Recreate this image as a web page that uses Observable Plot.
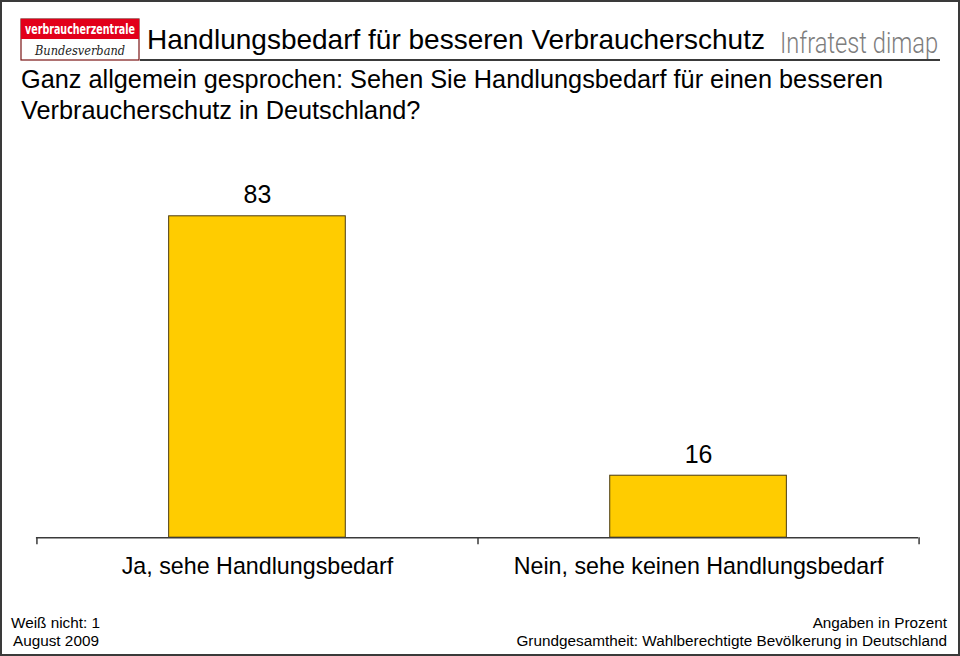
<!DOCTYPE html>
<html>
<head>
<meta charset="utf-8">
<script src="https://cdn.jsdelivr.net/npm/d3@7"></script>
<script src="https://cdn.jsdelivr.net/npm/@observablehq/plot@0.6"></script>
<style>
  html, body { margin: 0; padding: 0; background: #fff; }
  #frame { position: relative; width: 956px; height: 652px; border: 2px solid #3a3a3a; overflow: hidden;
    font-family: "Liberation Sans", Arial, Helvetica, sans-serif; color: #000; }
  .abs { position: absolute; white-space: nowrap; }
  #logo { left: 18px; top: 16px; }
  #title { left: 145px; top: 21px; font-size: 28px; line-height: 34px; }
  #brand { left: 778px; top: 24px; font-family: Roboto, sans-serif; font-weight: 300; font-size: 30px; line-height: 34px;
    color: #7d7d7d; transform: scaleX(0.79); transform-origin: left top; }
  #rule { left: 138px; top: 57px; width: 800px; height: 0; border-top: 2px solid #3a3a3a; }
  #subtitle { left: 19px; top: 62px; font-size: 25.3px; line-height: 31px; }
  #chart { left: -2px; top: 138px; }
  .foot { font-size: 15.3px; line-height: 18px; }
</style>
</head>
<body>
<div id="frame">
  <svg id="logo" class="abs" width="122" height="46" viewBox="0 0 122 46">
    <rect x="1" y="1" width="118" height="41" fill="#fff" stroke="#7a1414" stroke-width="1.2"/>
    <rect x="1" y="1" width="118" height="20" fill="#e2001a"/>
    <text transform="translate(60,16) scale(1,1.4)" text-anchor="middle" fill="#fff"
      font-family="'DejaVu Sans Condensed','DejaVu Sans',sans-serif" font-weight="bold" font-size="10.5"
      textLength="110" lengthAdjust="spacingAndGlyphs">verbraucherzentrale</text>
    <text x="60" y="37" text-anchor="middle" fill="#222" font-family="'DejaVu Serif',serif" font-style="italic"
      font-size="12" textLength="90" lengthAdjust="spacingAndGlyphs">Bundesverband</text>
  </svg>
  <div id="title" class="abs">Handlungsbedarf für besseren Verbraucherschutz</div>
  <div id="brand" class="abs">Infratest dimap</div>
  <div id="rule" class="abs"></div>
  <div id="subtitle" class="abs">Ganz allgemein gesprochen: Sehen Sie Handlungsbedarf für einen besseren<br>Verbraucherschutz in Deutschland?</div>
  <div id="chart" class="abs"></div>
  <div class="abs foot" style="left:9px; top:612px;">Weiß nicht: 1</div>
  <div class="abs foot" style="left:11px; top:630px;">August 2009</div>
  <div class="abs foot" style="right:11px; top:612px;">Angaben in Prozent</div>
  <div class="abs foot" style="right:11px; top:630px;">Grundgesamtheit: Wahlberechtigte Bevölkerung in Deutschland</div>
</div>
<script>
const categories = ["Ja, sehe Handlungsbedarf", "Nein, sehe keinen Handlungsbedarf"];
const values = [83, 16];

const data = categories.map((c, i) => ({category: c, value: values[i]}));

const width = 960, height = 440;
const marginLeft = 36, marginRight = 40, marginTop = 10, marginBottom = 42;
const step = (width - marginLeft - marginRight) / categories.length;
const tickLen = 7;
const yPerUnit = (height - marginTop - marginBottom) / 100;

const chart = Plot.plot({
  width, height, marginLeft, marginRight, marginTop, marginBottom,
  style: {fontFamily: '"Liberation Sans", Arial, Helvetica, sans-serif', background: "transparent", color: "#000"},
  x: {domain: categories, paddingInner: 0.6, paddingOuter: 0.3, axis: null},
  y: {domain: [0, 100], axis: null},
  marks: [
    Plot.barY(data, {x: "category", y: "value", fill: "#ffcc00", stroke: "#4a3a10", strokeWidth: 1}),
    Plot.ruleY([0], {stroke: "#3a3a3a", strokeWidth: 1.5}),
    // tick marks at band boundaries
    Plot.ruleX([categories[0], categories[1]], {x: d => d, y1: 0, y2: -tickLen / yPerUnit, dx: -step / 2, stroke: "#3a3a3a", strokeWidth: 1.5}),
    Plot.ruleX([categories[1]], {x: d => d, y1: 0, y2: -tickLen / yPerUnit, dx: step / 2, stroke: "#3a3a3a", strokeWidth: 1.5}),
    Plot.text(data, {x: "category", y: "value", text: d => String(d.value), lineAnchor: "bottom", dy: -13, fontSize: 25, fill: "#000"}),
    Plot.text(data, {x: "category", y: 0, text: "category", lineAnchor: "top", dy: 20, fontSize: 23.3, fill: "#000"})
  ]
});
document.getElementById("chart").appendChild(chart);
</script>
</body>
</html>
